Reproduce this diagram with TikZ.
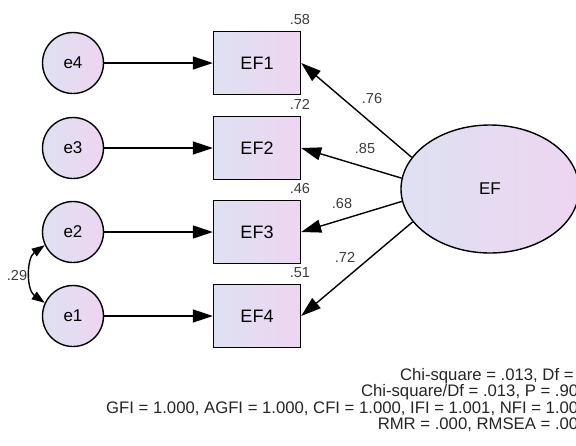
\documentclass[tikz,border=0pt]{standalone}
\usepackage{fontspec}
\setmainfont{Liberation Sans}
\usetikzlibrary{arrows.meta,shapes.geometric}
\definecolor{lv}{RGB}{222,225,242}
\definecolor{pk}{RGB}{238,213,241}
\definecolor{lbl}{RGB}{60,60,60}
\begin{document}
\begin{tikzpicture}[x=1pt,y=-1pt,
  obs/.style={draw, line width=1.4pt, left color=lv, right color=pk, minimum width=87pt, minimum height=63pt, inner sep=0pt, font=\fontsize{18}{20}\selectfont},
  err/.style={circle, draw, line width=1.4pt, left color=lv, right color=pk, minimum size=61pt, inner sep=0pt, font=\fontsize{17}{19}\selectfont},
  lat/.style={ellipse, draw, line width=1.4pt, left color=lv, right color=pk, minimum width=178pt, minimum height=128pt, inner sep=0pt, font=\fontsize{17}{19}\selectfont},
  pathar/.style={line width=1.4pt, -{Triangle[length=20pt,width=13pt]}},
  covar/.style={line width=1.4pt, {Triangle[length=13pt,width=9pt]}-{Triangle[length=13pt,width=9pt]}},
  coef/.style={font=\fontsize{14.5}{16}\selectfont, text=lbl, inner sep=0pt},
  rsq/.style={font=\fontsize{14.5}{16}\selectfont, text=lbl, inner sep=0pt, anchor=south east, xshift=9pt, yshift=6pt},
  fitline/.style={font=\fontsize{16.7}{18}\selectfont, text=black!85, inner sep=0pt}]
\useasboundingbox (0,0) rectangle (576,445);
\clip (0,0) rectangle (576,445);
\fill[white] (0,0) rectangle (576,445);

% error terms
\node[err] (e4) at (73,63) {e4};
\node[err] (e3) at (73,148) {e3};
\node[err] (e2) at (73,232) {e2};
\node[err] (e1) at (73,316) {e1};

% observed
\node[obs] (EF1) at (257,63) {EF1};
\node[obs] (EF2) at (257,148) {EF2};
\node[obs] (EF3) at (257,232) {EF3};
\node[obs] (EF4) at (257,316) {EF4};

% latent
\node[lat] (EF) at (490,189) {EF};

% error paths
\draw[pathar] (e4) -- (EF1);
\draw[pathar] (e3) -- (EF2);
\draw[pathar] (e2) -- (EF3);
\draw[pathar] (e1) -- (EF4);

% loadings
\draw[pathar] (EF.158) -- (EF1.east);
\draw[pathar] (EF.173) -- (EF2.east);
\draw[pathar] (EF.188) -- (EF3.east);
\draw[pathar] (EF.203) -- (EF4.east);

\node[coef] (l1) at (372,99) {.76};
\node[coef] (l2) at (365,149) {.85};
\node[coef] (l3) at (342,204) {.68};
\node[coef] (l4) at (345,257) {.72};

% squared multiple correlations
\node[rsq] (r1) at (EF1.north east) {.58};
\node[rsq] (r2) at (EF2.north east) {.72};
\node[rsq] (r3) at (EF3.north east) {.46};
\node[rsq] (r4) at (EF4.north east) {.51};

% covariance
\draw[covar] (e2.205) to[bend right=55] (e1.155);
\node[coef] (c12) at (17,276) {.29};

% fit indices
\node[fitline, anchor=base west] (g3) at (106,413) {GFI = 1.000, AGFI = 1.000, CFI = 1.000, IFI = 1.001, NFI = 1.00\phantom{0}};
\node[fitline, anchor=base east] (g1) at (g3.base east) [yshift=33pt] {Chi-square = .013, Df =\phantom{ 1}};
\node[fitline, anchor=base east] (g2) at (g3.base east) [yshift=17pt] {Chi-square/Df = .013, P = .90\phantom{9}};
\node[fitline, anchor=base east] (g4) at (g3.base east) [yshift=-16pt] {RMR = .000, RMSEA = .00\phantom{0}};
\end{tikzpicture}
\end{document}
